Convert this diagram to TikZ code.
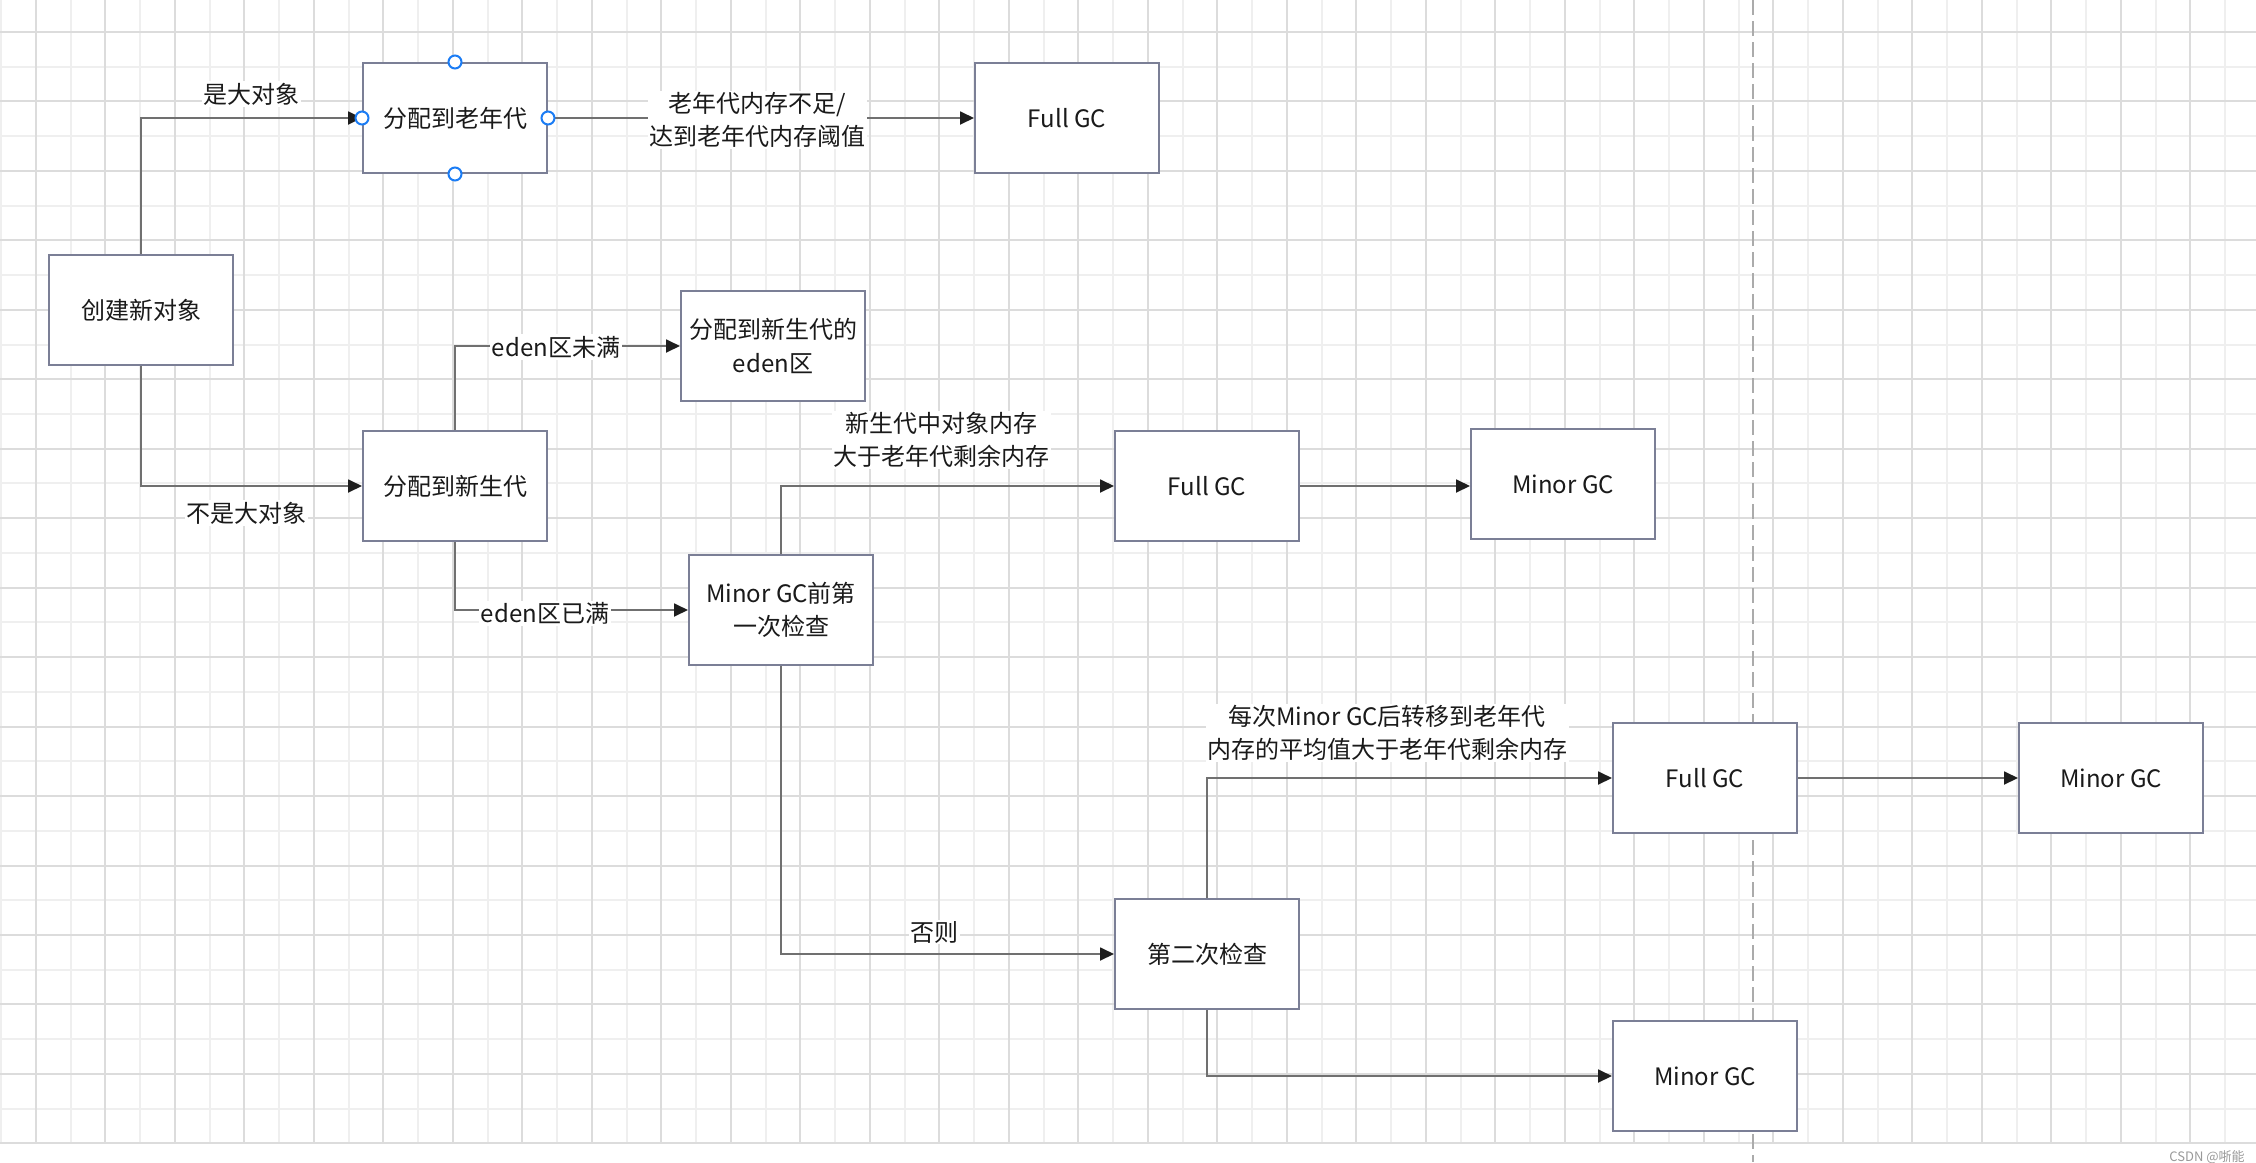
\documentclass[tikz,border=0pt]{standalone}
\usepackage{fontspec}
\newfontfamily\cjkf{Noto Sans CJK SC}
\usetikzlibrary{arrows.meta}
\definecolor{gridlight}{HTML}{EFEFEF}
\definecolor{griddark}{HTML}{DCDCDC}
\definecolor{boxc}{HTML}{7B7F96}
\definecolor{linec}{HTML}{707070}
\definecolor{tipc}{HTML}{1E1E1E}
\definecolor{handlec}{HTML}{1A7CF5}
\definecolor{txtc}{HTML}{1A1A1A}
\tikzset{
  gbox/.style={draw=boxc, line width=2pt, fill=white, minimum width=184pt, minimum height=110pt,
    align=center, font=\cjkf\fontsize{24}{33.5}\selectfont, text=txtc, inner sep=0pt},
  conn/.style={draw=linec, line width=1.8pt, -{Triangle[length=14pt,width=13pt,color=tipc]}},
  lbl/.style={font=\cjkf\fontsize{24}{33.5}\selectfont, align=center, text=txtc, fill=white, inner sep=1.5pt},
  handle/.style={circle, draw=handlec, line width=2pt, fill=white, minimum size=13pt, inner sep=0pt},
  gl/.style={draw=gridlight, line width=2pt},
  gd/.style={draw=griddark, line width=2pt},
}
\begin{document}
\begin{tikzpicture}[x=1pt,y=-1pt]
\useasboundingbox (0,0) rectangle (2256,1162);
\fill[white] (0,0) rectangle (2256,1162);
% grid
\foreach \k in {0,2,...,64} { \draw[gl] ({1+34.75*\k},0) -- ({1+34.75*\k},1143.3); }
\foreach \k in {1,3,...,31} { \draw[gl] (0,{32+34.73*\k}) -- (2256,{32+34.73*\k}); }
\foreach \k in {1,3,...,63} { \draw[gd] ({1+34.75*\k},0) -- ({1+34.75*\k},1143.3); }
\foreach \k in {0,2,...,32} { \draw[gd] (0,{32+34.73*\k}) -- (2256,{32+34.73*\k}); }
% dashed divider
\draw[draw=black!33, line width=2pt, dash pattern=on 15pt off 6pt] (1752.8,0) -- (1752.8,1162);

% boxes
\node[gbox] (create) at (141,310) {创建新对象};
\node[gbox] (old) at (455,118) {分配到老年代};
\node[gbox] (fullA) at (1067,118) {Full GC};
\node[gbox] (eden) at (773,346) {分配到新生代的\\eden区};
\node[gbox] (young) at (455,486) {分配到新生代};
\node[gbox] (check1) at (781,610) {Minor GC前第\\一次检查};
\node[gbox] (fullB) at (1207,486) {Full GC};
\node[gbox] (minorB) at (1563,484) {Minor GC};
\node[gbox] (check2) at (1207,954) {第二次检查};
\node[gbox] (fullC) at (1705,778) {Full GC};
\node[gbox] (minorC) at (2111,778) {Minor GC};
\node[gbox] (minorD) at (1705,1076) {Minor GC};

% connectors
\draw[conn] (create.north) |- (old.west);
\draw[conn] (create.south) |- (young.west);
\draw[conn] (old.east) -- (fullA.west);
\draw[conn] (young.north) |- (eden.west);
\draw[conn] (young.south) |- (check1.west);
\draw[conn] (check1.north) |- (fullB.west);
\draw[conn] (fullB.east) -- (fullB.east -| minorB.west);
\draw[conn] (check1.south) |- (check2.west);
\draw[conn] (check2.north) |- (fullC.west);
\draw[conn] (fullC.east) -- (minorC.west);
\draw[conn] (check2.south) |- (minorD.west);

% labels
\node[lbl] (l1) at (251,94) {是大对象};
\node[lbl] (l2) at (246,513) {不是大对象};
\node[lbl] (l3) at (757,120) {老年代内存不足/\\达到老年代内存阈值};
\node[lbl] (l4) at (556,347) {eden区未满};
\node[lbl] (l5) at (545,613) {eden区已满};
\node[lbl] (l6) at (941,440) {新生代中对象内存\\大于老年代剩余内存};
\node[lbl] (l7) at (934,932) {否则};
\node[lbl] (l8) at (1387,733) {每次Minor GC后转移到老年代\\内存的平均值大于老年代剩余内存};

% selection handles
\node[handle] (h1) at (old.north) {};
\node[handle] (h2) at (old.south) {};
\node[handle] (h3) at (old.west) {};
\node[handle] (h4) at (old.east) {};

% watermark
\node[font=\cjkf\fontsize{13}{15}\selectfont, text=black!40, inner sep=0pt] (wm) at (2207,1157) {CSDN @哳能};
\end{tikzpicture}
\end{document}
